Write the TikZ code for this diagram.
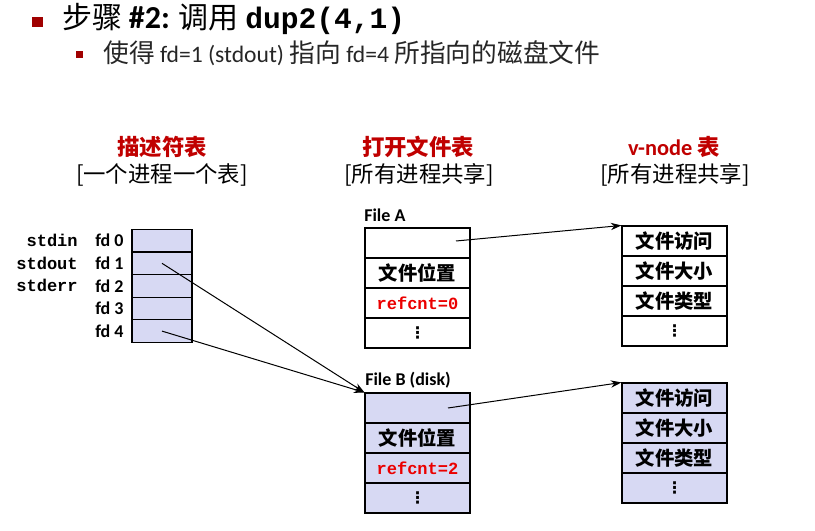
\documentclass[tikz,border=0pt]{standalone}
\usepackage{fontspec}
\setmainfont{Carlito}
\setmonofont{Liberation Mono}
\newfontfamily\cjk{Noto Sans CJK SC}
\newfontfamily\dejavu{DejaVu Sans}
\usetikzlibrary{arrows.meta}
\definecolor{lav}{RGB}{215,217,243}
\definecolor{hdred}{RGB}{192,0,0}
\definecolor{cntred}{RGB}{235,0,0}
\definecolor{bulred}{RGB}{160,0,0}
\newcommand{\tcj}[1]{{\cjk\fontsize{22.5}{26}\selectfont #1}}
\newcommand{\scj}[1]{{\cjk\fontsize{19.3}{22}\selectfont #1}}
\begin{document}
\begin{tikzpicture}[x=0.75pt,y=-0.75pt,
  cell/.style={draw=black,line width=0.8pt,minimum width=78.75pt,minimum height=22.5pt,inner sep=0pt,anchor=center},
  fdcell/.style={draw=black,line width=0.8pt,fill=lav,minimum width=45pt,minimum height=16.9pt,inner sep=0pt},
  celltxt/.style={font=\cjk\bfseries\fontsize{14.5}{16}\selectfont},
  cnttxt/.style={font=\ttfamily\bfseries\fontsize{12.8}{14}\selectfont,text=cntred},
  dots/.style={font=\dejavu\bfseries\fontsize{12}{14}\selectfont},
  hdr/.style={font=\cjk\bfseries\fontsize{16.8}{19}\selectfont,text=hdred},
  sub/.style={font=\cjk\fontsize{16.8}{19}\selectfont},
  fdl/.style={font=\bfseries\fontsize{13.5}{15}\selectfont,anchor=west,inner sep=0pt},
  stdl/.style={font=\ttfamily\bfseries\fontsize{12.8}{14}\selectfont,anchor=east,inner sep=0pt},
  flab/.style={font=\bfseries\fontsize{13.5}{15}\selectfont,anchor=base west,inner sep=0pt},
  arr/.style={line width=0.75pt,-{Stealth[length=8pt,width=5.5pt]}}]
\useasboundingbox (0,0) rectangle (815,531);

% title
\fill[bulred] (32,17) rectangle (43,27);
\node[anchor=base west,inner sep=0pt,font=\fontsize{22}{26}\selectfont] (title) at (62,29)
  {\tcj{步骤} {\bfseries\fontsize{24}{27}\selectfont \#2:} \tcj{调用} {\ttfamily\bfseries\fontsize{22.2}{26}\selectfont dup2(4,1)}};
\fill[bulred] (76,51) rectangle (83,58);
\node[anchor=base west,inner sep=0pt,text=black!85,font=\fontsize{17.7}{21}\selectfont] (subtitle) at (103,63)
  {\scj{使得} fd=1 (stdout) \scj{指向} fd=4 \scj{所指向的磁盘文件}};

% headers
\node[hdr] (h1) at (162,147) {描述符表};
\node[sub] (h1b) at (162,175) {[一个进程一个表]};
\node[hdr] (h2) at (418,147) {打开文件表};
\node[sub] (h2b) at (419,175) {[所有进程共享]};
\node[hdr] (h3) at (674,147) {{\normalfont\bfseries\fontsize{16.8}{19}\selectfont v-node} 表};
\node[sub] (h3b) at (675,175) {[所有进程共享]};

% descriptor table
\foreach \i in {0,...,4} {
  \node[fdcell] (fd\i) at (162,240.7+22.6*\i) {};
  \node[fdl] (fdl\i) at (95,240.7+22.6*\i) {fd \i};
}
\node[stdl] (sin) at (78,240.7) {stdin};
\node[stdl] (sout) at (78,263.3) {stdout};
\node[stdl] (serr) at (78,285.9) {stderr};

% File A
\node[flab] (fal) at (364,222) {File A};
\node[cell] (fa0) at (417.5,243) {};
\node[cell,celltxt] (fa1) at (417.5,273) {文件位置};
\node[cell,cnttxt] (fa2) at (417.5,303) {refcnt=0};
\node[cell,dots] (fa3) at (417.5,333) {⋮};

% v-node A
\node[cell,celltxt] (va0) at (674.5,241) {文件访问};
\node[cell,celltxt] (va1) at (674.5,271) {文件大小};
\node[cell,celltxt] (va2) at (674.5,301) {文件类型};
\node[cell,dots] (va3) at (674.5,331) {⋮};

% File B
\node[flab] (fbl) at (365,386) {File B (disk)};
\node[cell,fill=lav] (fb0) at (417.5,408) {};
\node[cell,fill=lav,celltxt] (fb1) at (417.5,438) {文件位置};
\node[cell,fill=lav,cnttxt] (fb2) at (417.5,468) {refcnt=2};
\node[cell,fill=lav,dots] (fb3) at (417.5,498) {⋮};

% v-node B
\node[cell,fill=lav,celltxt] (vb0) at (674.5,398) {文件访问};
\node[cell,fill=lav,celltxt] (vb1) at (674.5,428) {文件大小};
\node[cell,fill=lav,celltxt] (vb2) at (674.5,458) {文件类型};
\node[cell,fill=lav,dots] (vb3) at (674.5,488) {⋮};

% connectors
\coordinate (sa) at (456,241);
\coordinate (sb) at (448,408);
\draw[arr] (sa) -- (va0.north west);
\draw[arr] (sb) -- (vb0.north west);
\draw[arr] (fd1.center) -- (fb0.north west);
\draw[arr] (fd4.center) -- (fb0.north west);
\end{tikzpicture}
\end{document}
